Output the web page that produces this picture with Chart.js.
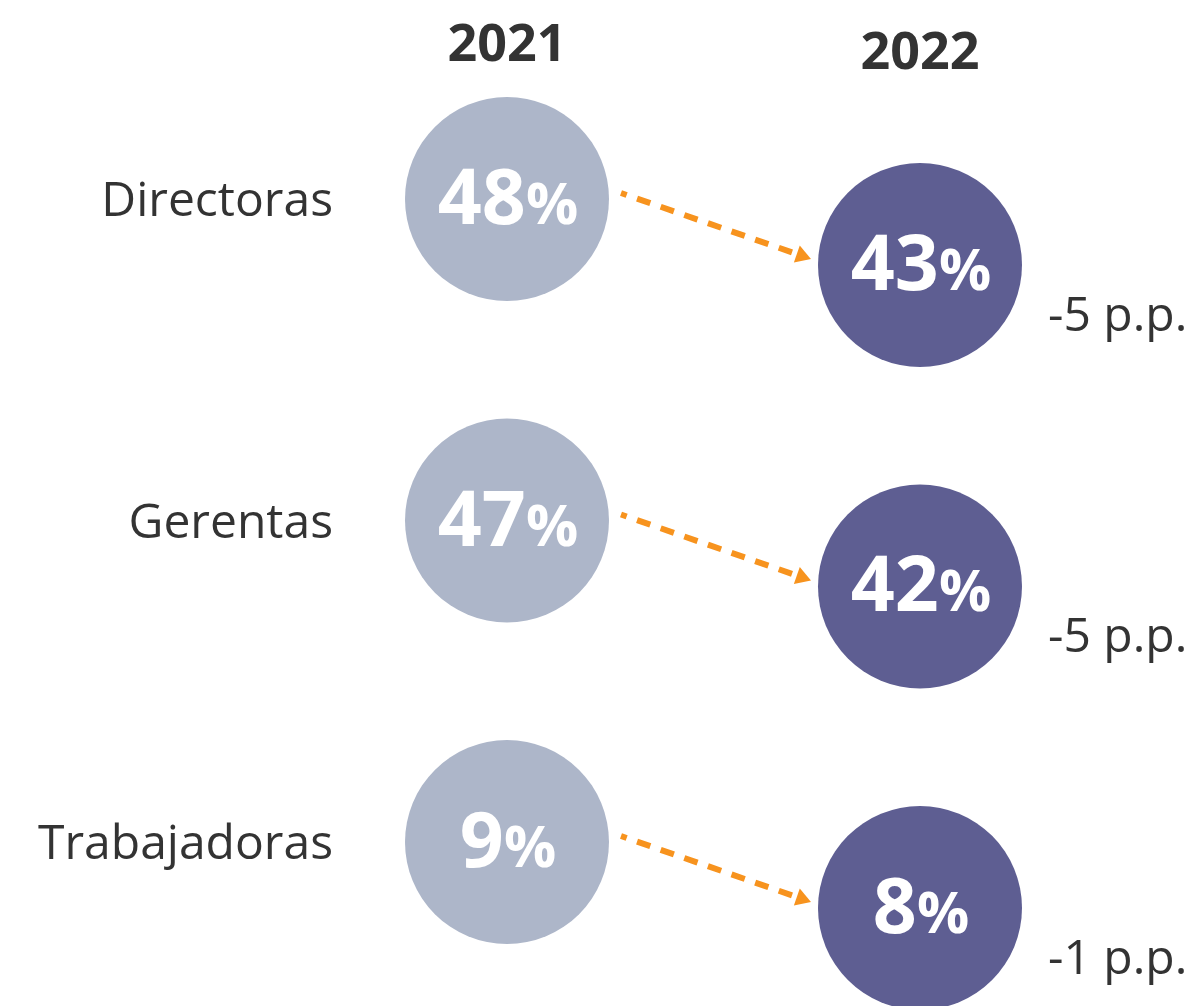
<!DOCTYPE html>
<html>
<head>
<meta charset="utf-8">
<script src="https://cdn.jsdelivr.net/npm/chart.js@4"></script>
<style>
  html, body { margin: 0; padding: 0; background: #fff; }
  #wrap { width: 1196px; height: 1006px; }
</style>
</head>
<body>
<div id="wrap"><canvas id="chart" width="1196" height="1006"></canvas></div>
<script>
const categories = ['Directoras', 'Gerentas', 'Trabajadoras'];
const years = ['2021', '2022'];
const values2021 = [48, 47, 9];
const values2022 = [43, 42, 8];

// layout bits (not data)
const STAGGER = 0.205;   // 2022 bubble sits a bit lower than 2021
const RADIUS = 102;
const FONT = '"Open Sans", "DejaVu Sans", sans-serif';
const TEXT = '#333333';
const ORANGE = '#F7931E';

function points(values, shift) {
  return values.map((v, i) => ({ x: shift === 0 ? 0 : 1, y: i + shift, v }));
}

const labelsPlugin = {
  id: 'labels',
  afterDatasetsDraw(chart) {
    const ctx = chart.ctx;
    const m21 = chart.getDatasetMeta(0).data;
    const m22 = chart.getDatasetMeta(1).data;
    ctx.save();

    // dashed arrows between the two years
    m21.forEach((a, i) => {
      const b = m22[i];
      const x0 = a.x + 114, y0 = a.y - 6;
      const x1 = b.x - 109, y1 = b.y - 6;
      const ang = Math.atan2(y1 - y0, x1 - x0);
      const hx = x1 - Math.cos(ang) * 15, hy = y1 - Math.sin(ang) * 15;
      ctx.strokeStyle = ORANGE;
      ctx.lineWidth = 6;
      ctx.setLineDash([14, 11]);
      ctx.lineDashOffset = 8;
      ctx.beginPath();
      ctx.moveTo(x0, y0);
      ctx.lineTo(hx + Math.cos(ang) * 2, hy + Math.sin(ang) * 2);
      ctx.stroke();
      ctx.setLineDash([]);
      ctx.fillStyle = ORANGE;
      ctx.beginPath();
      ctx.moveTo(x1, y1);
      ctx.lineTo(hx + Math.sin(ang) * 9, hy - Math.cos(ang) * 9);
      ctx.lineTo(hx - Math.sin(ang) * 9, hy + Math.cos(ang) * 9);
      ctx.closePath();
      ctx.fill();
    });

    // values inside the circles
    function pct(el, value) {
      const num = String(value);
      ctx.font = 'bold 77px ' + FONT;
      const wn = ctx.measureText(num).width;
      ctx.font = 'bold 58px ' + FONT;
      const wp = ctx.measureText('%').width;
      const x = el.x - (wn + wp) / 2 + 1;
      const base = el.y + 25;
      ctx.fillStyle = '#ffffff';
      ctx.textAlign = 'left';
      ctx.textBaseline = 'alphabetic';
      ctx.font = 'bold 77px ' + FONT;
      ctx.fillText(num, x, base);
      ctx.font = 'bold 58px ' + FONT;
      ctx.fillText('%', x + wn, base);
    }
    m21.forEach((el, i) => pct(el, values2021[i]));
    m22.forEach((el, i) => pct(el, values2022[i]));

    // category names
    ctx.fillStyle = TEXT;
    ctx.font = '48px ' + FONT;
    ctx.textAlign = 'right';
    ctx.textBaseline = 'alphabetic';
    m21.forEach((el, i) => ctx.fillText(categories[i], 333, el.y + 17));

    // change in percentage points
    ctx.textAlign = 'left';
    m22.forEach((el, i) => {
      const d = values2022[i] - values2021[i];
      ctx.fillText((d > 0 ? '+' : '') + d + ' p.p.', 1048, el.y + 66);
    });

    // year headers
    ctx.font = 'bold 52px ' + FONT;
    ctx.textAlign = 'center';
    ctx.fillText(years[0], m21[0].x, 61);
    ctx.fillText(years[1], m22[0].x, 69);
    ctx.restore();
  }
};

const config = {
  type: 'scatter',
  data: {
    datasets: [
      {
        label: years[0],
        data: points(values2021, 0),
        backgroundColor: '#ADB6C9',
        borderWidth: 0,
        pointRadius: RADIUS,
        pointHoverRadius: RADIUS,
        clip: false,
      },
      {
        label: years[1],
        data: points(values2022, STAGGER),
        backgroundColor: '#5E5E92',
        borderWidth: 0,
        pointRadius: RADIUS,
        pointHoverRadius: RADIUS,
        clip: false,
      },
    ],
  },
  options: {
    responsive: false,
    animation: false,
    events: [],
    layout: { padding: 0, autoPadding: false },
    scales: {
      x: { type: 'linear', display: false, min: -1.2276, max: 1.6683 },
      y: { type: 'linear', display: false, reverse: true, min: -0.619, max: 2.510 },
    },
    plugins: {
      legend: { display: false },
      tooltip: { enabled: false },
    },
  },
  plugins: [labelsPlugin],
};

new Chart(document.getElementById('chart').getContext('2d'), config);
</script>
</body>
</html>
